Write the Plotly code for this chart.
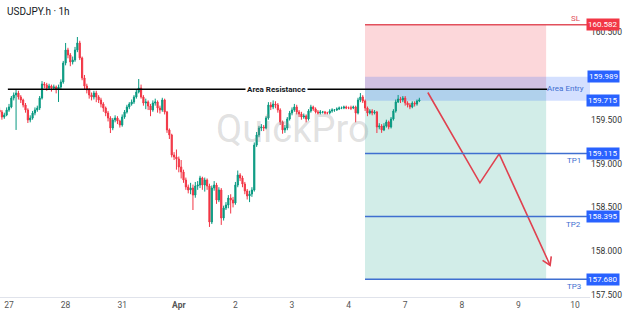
import numpy as np
import plotly.graph_objects as go

# ---------------- data ----------------
day_index = list(range(11))
day_labels = ["27", "28", "31", "<b>Apr</b>", "2", "3", "4", "7", "8", "9", "10"]

first_bar_offset_hours = -4  # first hourly bar starts 4h before the "27" label

opens = [
    159.610,159.588,159.531,159.554,159.611,159.645,159.747,159.782,159.804,159.759,
    159.725,159.668,159.611,159.497,159.519,159.576,159.611,159.633,159.747,159.907,
    159.896,159.861,159.884,159.861,159.873,159.850,159.873,159.930,160.147,160.295,
    160.238,160.158,160.181,160.295,160.375,160.204,159.976,159.884,159.839,159.782,
    159.759,159.804,159.759,159.725,159.679,159.633,159.576,159.519,159.405,159.497,
    159.519,159.485,159.440,159.531,159.588,159.645,159.679,159.702,159.759,159.816,
    159.861,159.759,159.690,159.702,159.656,159.611,159.690,159.702,159.633,159.611,
    159.725,159.588,159.383,159.326,159.097,159.075,159.052,158.961,158.904,158.812,
    158.733,158.698,158.721,158.641,158.744,158.755,158.835,158.755,158.812,158.744,
    158.333,158.721,158.755,158.584,158.698,158.379,158.493,158.527,158.607,158.584,
    158.550,158.755,158.869,158.835,158.767,158.687,158.630,158.653,158.698,159.211,
    159.326,159.405,159.417,159.405,159.519,159.668,159.645,159.679,159.668,159.611,
    159.474,159.383,159.405,159.508,159.576,159.611,159.645,159.588,159.565,159.531,
    159.542,159.508,159.599,159.645,159.622,159.588,159.576,159.588,159.588,159.576,
    159.576,159.599,159.611,159.611,159.622,159.633,159.633,159.645,159.633,159.633,
    159.633,159.645,159.576,159.725,159.759,159.713,159.633,159.576,159.599,159.576,
    159.588,159.417,159.428,159.383,159.428,159.474,159.417,159.508,159.599,159.702,
    159.736,159.725,159.747,159.690,159.668,159.645,159.690,159.679,159.713,
]
closes = [
    159.588,159.531,159.554,159.611,159.645,159.747,159.782,159.804,159.759,159.725,
    159.668,159.611,159.497,159.519,159.576,159.611,159.633,159.747,159.907,159.896,
    159.861,159.884,159.861,159.873,159.850,159.873,159.930,160.147,160.295,160.238,
    160.158,160.181,160.295,160.375,160.204,159.976,159.884,159.839,159.782,159.759,
    159.804,159.759,159.725,159.679,159.633,159.576,159.519,159.405,159.497,159.519,
    159.485,159.440,159.531,159.588,159.645,159.679,159.702,159.759,159.816,159.861,
    159.759,159.690,159.702,159.656,159.611,159.690,159.702,159.633,159.611,159.725,
    159.588,159.383,159.326,159.097,159.075,159.052,158.961,158.904,158.812,158.733,
    158.698,158.721,158.641,158.744,158.755,158.835,158.755,158.812,158.744,158.333,
    158.721,158.755,158.584,158.698,158.379,158.493,158.527,158.607,158.584,158.550,
    158.755,158.869,158.835,158.767,158.687,158.630,158.653,158.698,159.211,159.326,
    159.405,159.417,159.405,159.519,159.668,159.645,159.679,159.668,159.611,159.474,
    159.383,159.405,159.508,159.576,159.611,159.645,159.588,159.565,159.531,159.542,
    159.508,159.599,159.645,159.622,159.588,159.576,159.588,159.588,159.576,159.576,
    159.599,159.611,159.611,159.622,159.633,159.633,159.645,159.633,159.633,159.633,
    159.645,159.576,159.725,159.759,159.713,159.633,159.576,159.599,159.576,159.588,
    159.417,159.428,159.383,159.428,159.474,159.417,159.508,159.599,159.702,159.736,
    159.725,159.747,159.690,159.668,159.645,159.690,159.679,159.713,159.725,
]
highs = [
    159.640,159.610,159.580,159.640,159.680,159.770,159.810,159.850,159.830,159.780,
    159.740,159.690,159.630,159.550,159.600,159.640,159.660,159.770,159.940,159.930,
    159.920,159.910,159.900,159.900,159.890,159.900,159.960,160.170,160.375,160.320,
    160.260,160.220,160.330,160.443,160.400,160.220,160.010,159.910,159.860,159.810,
    159.830,159.830,159.780,159.750,159.700,159.650,159.600,159.540,159.520,159.550,
    159.540,159.500,159.560,159.610,159.670,159.700,159.730,159.780,159.840,159.964,
    159.900,159.780,159.740,159.720,159.680,159.720,159.740,159.720,159.660,159.750,
    159.740,159.600,159.400,159.340,159.130,159.160,159.080,159.040,158.930,158.840,
    158.760,158.780,158.760,158.790,158.800,158.860,158.850,158.840,158.830,158.770,
    158.750,158.800,158.780,158.730,158.720,158.520,158.560,158.640,158.650,158.620,
    158.790,158.920,158.890,158.860,158.790,158.710,158.690,158.730,159.240,159.360,
    159.430,159.450,159.440,159.540,159.700,159.700,159.720,159.710,159.690,159.630,
    159.490,159.440,159.530,159.600,159.640,159.680,159.670,159.610,159.590,159.570,
    159.560,159.620,159.670,159.660,159.640,159.610,159.610,159.600,159.600,159.590,
    159.620,159.630,159.620,159.640,159.650,159.650,159.660,159.660,159.650,159.660,
    159.660,159.660,159.750,159.804,159.780,159.730,159.650,159.620,159.620,159.610,
    159.600,159.460,159.450,159.460,159.500,159.490,159.530,159.620,159.730,159.782,
    159.760,159.770,159.770,159.710,159.690,159.710,159.710,159.730,159.750,
]
lows = [
    159.560,159.500,159.510,159.540,159.590,159.630,159.720,159.383,159.730,159.690,
    159.640,159.580,159.462,159.470,159.500,159.550,159.590,159.610,159.730,159.860,
    159.830,159.840,159.820,159.840,159.800,159.702,159.850,159.910,160.120,160.200,
    160.110,160.130,160.160,160.270,160.180,159.950,159.850,159.800,159.740,159.720,
    159.730,159.700,159.690,159.640,159.590,159.540,159.480,159.348,159.380,159.470,
    159.450,159.410,159.420,159.510,159.570,159.620,159.660,159.680,159.740,159.800,
    159.740,159.660,159.620,159.610,159.540,159.590,159.660,159.580,159.570,159.590,
    159.560,159.350,159.280,159.070,159.040,158.930,158.900,158.830,158.780,158.700,
    158.660,158.650,158.470,158.610,158.700,158.720,158.700,158.680,158.700,158.277,
    158.310,158.690,158.540,158.560,158.300,158.350,158.470,158.490,158.430,158.500,
    158.530,158.730,158.800,158.730,158.650,158.590,158.560,158.620,158.680,159.190,
    159.300,159.370,159.370,159.390,159.500,159.610,159.620,159.630,159.580,159.440,
    159.340,159.350,159.380,159.490,159.550,159.590,159.560,159.530,159.500,159.510,
    159.470,159.490,159.580,159.600,159.570,159.560,159.560,159.570,159.560,159.560,
    159.560,159.580,159.590,159.600,159.610,159.620,159.620,159.620,159.620,159.610,
    159.620,159.470,159.560,159.700,159.690,159.600,159.540,159.560,159.550,159.560,
    159.348,159.390,159.350,159.370,159.410,159.390,159.400,159.490,159.580,159.690,
    159.690,159.700,159.660,159.640,159.620,159.630,159.650,159.660,159.700,
]

# trade plan levels
sl_level = 160.582
entry_top = 159.989
entry_bottom = 159.715
resistance_level = 159.847
tp_levels = [159.115, 158.395, 157.680]
tp_names = ["TP1", "TP2", "TP3"]
zone_start, zone_end = 6.29, 9.49
resistance_start = -0.02

# projected path (day index, price)
forecast_x = [7.40, 8.32, 8.66, 9.56]
forecast_price = [159.81, 158.78, 159.11, 157.84]

tick_prices = [157.5, 158.0, 158.5, 159.0, 159.5, 160.5]

# ---------------- figure ----------------
W, H = 624, 316
M = dict(l=0, r=34, t=0, b=19)
x_range = [-0.159, 10.265]
y_range = [157.478, 160.865]
x_right = x_range[1]

bar_x = (np.arange(len(closes)) + first_bar_offset_hours) / 24.0

GREEN = "#089981"
RED = "#f23645"
BLUE = "#2962ff"
FONT = "Roboto"

fig = go.Figure()
fig.add_trace(go.Candlestick(
    x=bar_x, open=opens, high=highs, low=lows, close=closes,
    increasing=dict(line=dict(color=GREEN, width=1), fillcolor=GREEN),
    decreasing=dict(line=dict(color=RED, width=1), fillcolor=RED),
    whiskerwidth=0, hoverinfo="skip", showlegend=False,
))

# projected path
fig.add_trace(go.Scatter(
    x=forecast_x, y=forecast_price, mode="lines",
    line=dict(color="#e0414f", width=1.6), hoverinfo="skip", showlegend=False,
))
# open arrowhead derived from the last segment direction
pw = W - M["l"] - M["r"]
ph = H - M["t"] - M["b"]
sx = pw / (x_range[1] - x_range[0])
sy = ph / (y_range[1] - y_range[0])
dx = (forecast_x[-1] - forecast_x[-2]) * sx
dy = (forecast_price[-1] - forecast_price[-2]) * sy
ang = np.arctan2(dy, dx)
L = 9
wings_x, wings_y = [], []
for s in (+1, -1):
    a = ang + np.pi + s * np.radians(32)
    wings_x.append(forecast_x[-1] + L * np.cos(a) / sx)
    wings_y.append(forecast_price[-1] + L * np.sin(a) / sy)
fig.add_trace(go.Scatter(
    x=[wings_x[0], forecast_x[-1], wings_x[1]],
    y=[wings_y[0], forecast_price[-1], wings_y[1]],
    mode="lines", line=dict(color="#e0414f", width=1.6),
    hoverinfo="skip", showlegend=False,
))

shapes = []
# SL zone (pink) and TP zone (teal)
shapes.append(dict(type="rect", xref="x", yref="y", x0=zone_start, x1=zone_end,
                   y0=resistance_level, y1=sl_level, line=dict(width=0),
                   fillcolor="rgba(242,54,69,0.2)", layer="below"))
shapes.append(dict(type="rect", xref="x", yref="y", x0=zone_start, x1=zone_end,
                   y0=tp_levels[-1], y1=resistance_level, line=dict(width=0),
                   fillcolor="rgba(8,153,129,0.18)", layer="below"))
# entry band
shapes.append(dict(type="rect", xref="x", yref="y", x0=zone_start, x1=x_right,
                   y0=entry_bottom, y1=entry_top, line=dict(width=0),
                   fillcolor="rgba(41,98,255,0.2)", layer="below"))
# SL line
shapes.append(dict(type="line", xref="x", yref="y", x0=zone_start, x1=x_right,
                   y0=sl_level, y1=sl_level, line=dict(color="#e2505c", width=1.5)))
# TP lines
for lv in tp_levels:
    shapes.append(dict(type="line", xref="x", yref="y", x0=zone_start, x1=x_right,
                       y0=lv, y1=lv, line=dict(color="#3f6fd0", width=1.5)))
# resistance line
shapes.append(dict(type="line", xref="x", yref="y", x0=resistance_start, x1=zone_end + 0.02,
                   y0=resistance_level, y1=resistance_level,
                   line=dict(color="#000000", width=1.5)))

annotations = []
# title
annotations.append(dict(text="USDJPY.h · 1h", xref="paper", yref="paper", x=0.008, y=0.985,
                        xanchor="left", yanchor="top", showarrow=False,
                        font=dict(family=FONT, size=10, color="#131722")))
# watermark
annotations.append(dict(text="QuickPro", xref="paper", yref="paper", x=0.497, y=0.565,
                        xanchor="center", yanchor="middle", showarrow=False,
                        font=dict(family=FONT, size=38, color="rgba(140,140,140,0.27)")))
# resistance label
annotations.append(dict(text="<b>Area Resistance</b>", xref="x", yref="y", x=4.72,
                        y=resistance_level, showarrow=False, bgcolor="white", borderpad=1,
                        font=dict(family=FONT, size=8, color="#131722")))
# Area Entry label
annotations.append(dict(text="Area Entry", xref="x", yref="y", x=9.84,
                        y=(entry_top + entry_bottom) / 2, showarrow=False,
                        font=dict(family=FONT, size=8, color="#3f6fd0")))
# SL text
annotations.append(dict(text="SL", xref="x", yref="y", x=10.14, y=sl_level,
                        xanchor="right", yanchor="bottom", yshift=0, showarrow=False,
                        font=dict(family=FONT, size=8, color="#e2505c")))
for lv, nm in zip(tp_levels, tp_names):
    annotations.append(dict(text=nm, xref="x", yref="y", x=10.14, y=lv,
                            xanchor="right", yanchor="top", yshift=-1, showarrow=False,
                            font=dict(family=FONT, size=8, color="#3f6fd0")))
# price tags on the axis
tags = [(sl_level, RED), (entry_top, BLUE), (entry_bottom, BLUE)] + [(lv, BLUE) for lv in tp_levels]
for lv, col in tags:
    annotations.append(dict(text=f"{lv:.3f}", xref="paper", yref="y", x=1, y=lv,
                            xanchor="right", yanchor="middle", xshift=30, showarrow=False,
                            bgcolor=col, borderpad=1,
                            font=dict(family=FONT, size=8, color="white")))

fig.update_layout(
    width=W, height=H, margin=M,
    paper_bgcolor="white", plot_bgcolor="white",
    shapes=shapes, annotations=annotations,
    xaxis=dict(range=x_range, tickvals=day_index, ticktext=day_labels,
               showgrid=False, zeroline=False, showline=True, linecolor="#e0e3eb",
               ticks="", tickfont=dict(family=FONT, size=8.5, color="#555"),
               rangeslider=dict(visible=False), fixedrange=True),
    yaxis=dict(range=y_range, side="right", tickvals=tick_prices,
               ticktext=[f"{p:.3f}" for p in tick_prices],
               showgrid=False, zeroline=False, ticks="",
               tickfont=dict(family=FONT, size=8.5, color="#333"), fixedrange=True),
    showlegend=False,
)

fig.write_html("out.html")
